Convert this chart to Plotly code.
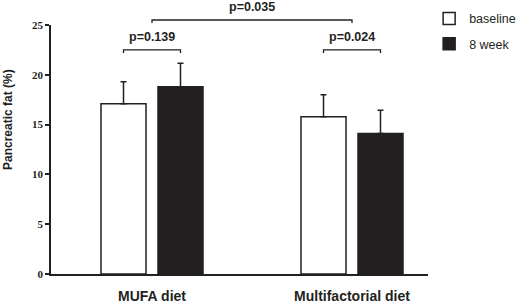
import plotly.graph_objects as go

categories = ["MUFA diet", "Multifactorial diet"]
baseline = [17.1, 15.8]
baseline_err = [2.2, 2.2]
week8 = [18.8, 14.1]
week8_err = [2.35, 2.35]
y_ticks = [0, 5, 10, 15, 20, 25]
p_values = ["p=0.139", "p=0.024", "p=0.035"]

xpos = [0, 1]
W = 0.225
OFF = 0.1425

fig = go.Figure()
fig.add_trace(go.Bar(
    x=xpos, y=baseline, name="baseline", width=W, offset=-OFF - W / 2, legendgroup="a",
    marker=dict(color="white", line=dict(color="#231f20", width=1.5)),
    error_y=dict(type="data", array=baseline_err, arrayminus=[0, 0], symmetric=False,
                 color="#231f20", thickness=1.5, width=3),
))
fig.add_trace(go.Bar(
    x=xpos, y=week8, name="8 week", width=W, offset=OFF - W / 2, legendgroup="b",
    marker=dict(color="#231f20", line=dict(color="#231f20", width=1.5)),
    error_y=dict(type="data", array=week8_err, arrayminus=[0, 0], symmetric=False,
                 color="#231f20", thickness=1.5, width=3),
))

shapes = []
annotations = []
line = dict(color="#231f20", width=1.3)

def bracket(x0, x1, yv, drop, text, ty):
    shapes.append(dict(type="path", xref="x", yref="paper",
                       path=f"M {x0},{(yv - drop) / 25} L {x0},{yv / 25} L {x1},{yv / 25} L {x1},{(yv - drop) / 25}",
                       line=line))
    annotations.append(dict(x=(x0 + x1) / 2, y=ty / 25, xref="x", yref="paper", text=text,
                            showarrow=False, font=dict(family="Liberation Sans, Arial", size=12.5, color="#231f20"),
                            xanchor="center", yanchor="middle"))

bracket(xpos[0] - OFF, xpos[0] + OFF, 22.5, 0.3, "<b>" + p_values[0] + "</b>", 23.8)
bracket(xpos[1] - OFF, xpos[1] + OFF, 22.5, 0.3, "<b>" + p_values[1] + "</b>", 23.8)
bracket(xpos[0], xpos[1], 25.5, 0.3, "<b>" + p_values[2] + "</b>", 26.8)

annotations.append(dict(x=(8 - 51) / 377, y=(274 - 120) / 249, xref="paper", yref="paper",
                        text="<b>Pancreatic fat (%)</b>", textangle=-90, showarrow=False,
                        font=dict(family="Liberation Sans, Arial", size=12, color="#231f20"),
                        xanchor="center", yanchor="middle"))

fig.update_layout(
    width=520, height=304,
    margin=dict(l=51, r=92, t=25, b=30, autoexpand=False),
    plot_bgcolor="white", paper_bgcolor="white",
    barmode="overlay",
    showlegend=True,
    legend=dict(x=1.003, y=1.085, xanchor="left", yanchor="top", tracegroupgap=6,
                font=dict(family="Liberation Sans, Arial", size=12.5, color="#231f20"),
                bgcolor="rgba(0,0,0,0)", itemclick=False),
    shapes=shapes, annotations=annotations,
    xaxis=dict(range=[-0.505, 1.38], tickvals=xpos, ticktext=["<b>" + c + "</b>" for c in categories],
               showgrid=False, zeroline=False, showline=True, linecolor="#231f20", linewidth=1.5,
               ticks="outside", ticklen=8, tickcolor="rgba(0,0,0,0)",
               tickfont=dict(family="Liberation Sans, Arial", size=14, color="#231f20")),
    yaxis=dict(range=[0, 25], tickvals=y_ticks, ticktext=["<b>%d</b>" % v for v in y_ticks],
               showgrid=False, zeroline=False, showline=True, linecolor="#231f20", linewidth=1.5,
               ticks="outside", ticklen=4, tickwidth=1.5, tickcolor="#231f20",
               tickfont=dict(family="Liberation Serif, Times New Roman", size=11, color="#231f20")),
)

fig.write_html("out.html", config={"displayModeBar": False},
               post_script="document.body.style.margin='0';document.body.style.overflow='hidden';")
